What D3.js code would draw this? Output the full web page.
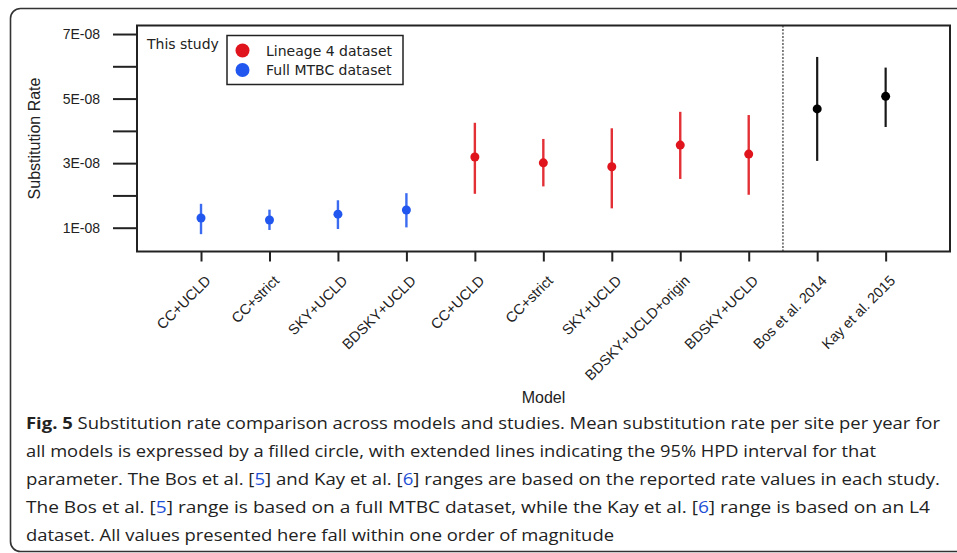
<!DOCTYPE html>
<html>
<head>
<meta charset="utf-8">
<title>Substitution rate comparison</title>
<script src="https://d3js.org/d3.v7.min.js"></script>
<style>
  body { margin: 0; background: #fff; }
  svg { display: block; }
  .axis text { font-family: "Liberation Sans", Arial, sans-serif; font-size: 14px; fill: #222; }
  .axis line { stroke: #222; stroke-width: 2; }
  .caption { font-family: "Open Sans", sans-serif; font-size: 16.5px; fill: #222; }
  .cite { fill: #1d4fd6; }
</style>
</head>
<body>
<svg></svg>
<script>
// model names along the x axis
const models = ['CC+UCLD', 'CC+strict', 'SKY+UCLD', 'BDSKY+UCLD', 'CC+UCLD', 'CC+strict',
  'SKY+UCLD', 'BDSKY+UCLD+origin', 'BDSKY+UCLD', 'Bos et al. 2014', 'Kay et al. 2015'];
// which dataset each point belongs to
const groups = ['mtbc', 'mtbc', 'mtbc', 'mtbc', 'l4', 'l4', 'l4', 'l4', 'l4', 'other', 'other'];
// mean rate and 95% HPD bounds
const means = [1.30e-8, 1.24e-8, 1.42e-8, 1.55e-8, 3.19e-8, 3.01e-8, 2.89e-8, 3.56e-8, 3.28e-8, 4.68e-8, 5.07e-8];
const lower = [0.80e-8, 0.93e-8, 0.96e-8, 1.01e-8, 2.05e-8, 2.28e-8, 1.60e-8, 2.51e-8, 2.02e-8, 3.07e-8, 4.12e-8];
const upper = [1.74e-8, 1.56e-8, 1.85e-8, 2.07e-8, 4.25e-8, 3.75e-8, 4.08e-8, 4.59e-8, 4.49e-8, 6.29e-8, 5.96e-8];

const yTicks = [1e-8, 2e-8, 3e-8, 4e-8, 5e-8, 6e-8, 7e-8];
const yTickLabels = ['1E-08', '', '3E-08', '', '5E-08', '', '7E-08'];
const separatorAt = 9.5;

const legendLabels = ['Lineage 4 dataset', 'Full MTBC dataset'];
const colors = { l4: '#e0141c', mtbc: '#2157ee', other: '#000' };

const captionLines = [
  [['b', 'Fig. 5'], ['', ' Substitution rate comparison across models and studies. Mean substitution rate per site per year for']],
  [['', 'all models is expressed by a filled circle, with extended lines indicating the 95% HPD interval for that']],
  [['', 'parameter. The Bos et al. ['], ['c', '5'], ['', '] and Kay et al. ['], ['c', '6'], ['', '] ranges are based on the reported rate values in each study.']],
  [['', 'The Bos et al. ['], ['c', '5'], ['', '] range is based on a full MTBC dataset, while the Kay et al. ['], ['c', '6'], ['', '] range is based on an L4']],
  [['', 'dataset. All values presented here fall within one order of magnitude']]
];
const captionWidths = [914, 850, 914, 904, 588];

const width = 957, height = 553;
const plot = { left: 137, right: 950, top: 25.5, bottom: 251.5 };

const svg = d3.select('svg').attr('width', width).attr('height', height);

// outer frame of the figure panel
svg.append('rect')
  .attr('x', 10.5).attr('y', 8.5).attr('width', 970).attr('height', 543)
  .attr('rx', 10).attr('fill', 'none').attr('stroke', '#333').attr('stroke-width', 1.6);

const x = d3.scaleLinear().domain([0.065, 11.94]).range([plot.left, plot.right]);
const y = d3.scaleLinear().domain([0.263e-8, 7.264e-8]).range([plot.bottom, plot.top]);

// y axis
const yAxis = svg.append('g').attr('class', 'axis')
  .attr('transform', 'translate(' + plot.left + ',0)')
  .call(d3.axisLeft(y).tickValues(yTicks).tickSize(24).tickPadding(13)
    .tickFormat((d, i) => yTickLabels[i]));
yAxis.select('.domain').remove();

// x axis
const xAxis = svg.append('g').attr('class', 'axis')
  .attr('transform', 'translate(0,' + plot.bottom + ')')
  .call(d3.axisBottom(x).tickValues(d3.range(1, models.length + 1)).tickSize(10).tickFormat(''));
xAxis.select('.domain').remove();

svg.append('g').selectAll('text').data(models).enter().append('text')
  .attr('transform', (d, i) => 'translate(' + (x(i + 1) + 7) + ',278) rotate(-45)')
  .attr('text-anchor', 'end')
  .attr('dominant-baseline', 'central')
  .attr('font-family', '"Liberation Sans", Arial, sans-serif')
  .attr('font-size', '14.5px')
  .attr('fill', '#222')
  .text(d => d);

// axis titles
svg.append('text')
  .attr('transform', 'translate(40,' + ((plot.top + plot.bottom) / 2) + ') rotate(-90)')
  .attr('text-anchor', 'middle')
  .attr('font-family', '"Liberation Sans", Arial, sans-serif')
  .attr('font-size', '16px').attr('fill', '#222')
  .text('Substitution Rate');

svg.append('text')
  .attr('x', (plot.left + plot.right) / 2).attr('y', 403)
  .attr('text-anchor', 'middle')
  .attr('font-family', '"Liberation Sans", Arial, sans-serif')
  .attr('font-size', '16px').attr('fill', '#222')
  .text('Model');

// separator between this study and published estimates
svg.append('line')
  .attr('x1', x(separatorAt)).attr('x2', x(separatorAt))
  .attr('y1', plot.top).attr('y2', plot.bottom)
  .attr('stroke', '#444').attr('stroke-width', 1.3).attr('stroke-dasharray', '2,1.5');

// HPD intervals
svg.append('g').selectAll('line').data(models).enter().append('line')
  .attr('x1', (d, i) => x(i + 1)).attr('x2', (d, i) => x(i + 1))
  .attr('y1', (d, i) => y(lower[i])).attr('y2', (d, i) => y(upper[i]))
  .attr('stroke', (d, i) => colors[groups[i]])
  .attr('stroke-width', (d, i) => groups[i] == 'other' ? 2.2 : 2.4)
  .attr('opacity', (d, i) => groups[i] == 'other' ? 0.9 : 0.88);

// means
svg.append('g').selectAll('circle').data(models).enter().append('circle')
  .attr('cx', (d, i) => x(i + 1)).attr('cy', (d, i) => y(means[i]))
  .attr('r', 4.5)
  .attr('fill', (d, i) => colors[groups[i]]);

// plot box
svg.append('rect')
  .attr('x', plot.left).attr('y', plot.top)
  .attr('width', plot.right - plot.left).attr('height', plot.bottom - plot.top)
  .attr('fill', 'none').attr('stroke', '#222').attr('stroke-width', 2);

// legend
svg.append('text')
  .attr('x', 147).attr('y', 48.5)
  .attr('font-family', '"DejaVu Sans", sans-serif').attr('font-size', '14px').attr('fill', '#222')
  .text('This study');

const legend = svg.append('g');
legend.append('rect')
  .attr('x', 227).attr('y', 35.5).attr('width', 176).attr('height', 49)
  .attr('fill', '#fff').attr('stroke', '#222').attr('stroke-width', 1.5);
const legendKeys = ['l4', 'mtbc'];
legend.selectAll('circle').data(legendLabels).enter().append('circle')
  .attr('cx', 242.5).attr('cy', (d, i) => 50.5 + i * 19.5)
  .attr('r', 7)
  .attr('fill', (d, i) => colors[legendKeys[i]]);
legend.selectAll('text').data(legendLabels).enter().append('text')
  .attr('x', 266).attr('y', (d, i) => 55.5 + i * 19.5)
  .attr('font-family', '"DejaVu Sans", sans-serif').attr('font-size', '14px').attr('fill', '#222')
  .text(d => d);

// caption
const caption = svg.append('g');
captionLines.forEach((parts, li) => {
  const t = caption.append('text').attr('class', 'caption')
    .attr('x', 26).attr('y', 429 + li * 28)
    .attr('textLength', captionWidths[li]).attr('lengthAdjust', 'spacingAndGlyphs');
  parts.forEach(p => {
    const s = t.append('tspan').text(p[1]);
    if (p[0] == 'b') s.attr('font-weight', 'bold');
    if (p[0] == 'c') s.attr('class', 'cite');
  });
});
</script>
</body>
</html>
